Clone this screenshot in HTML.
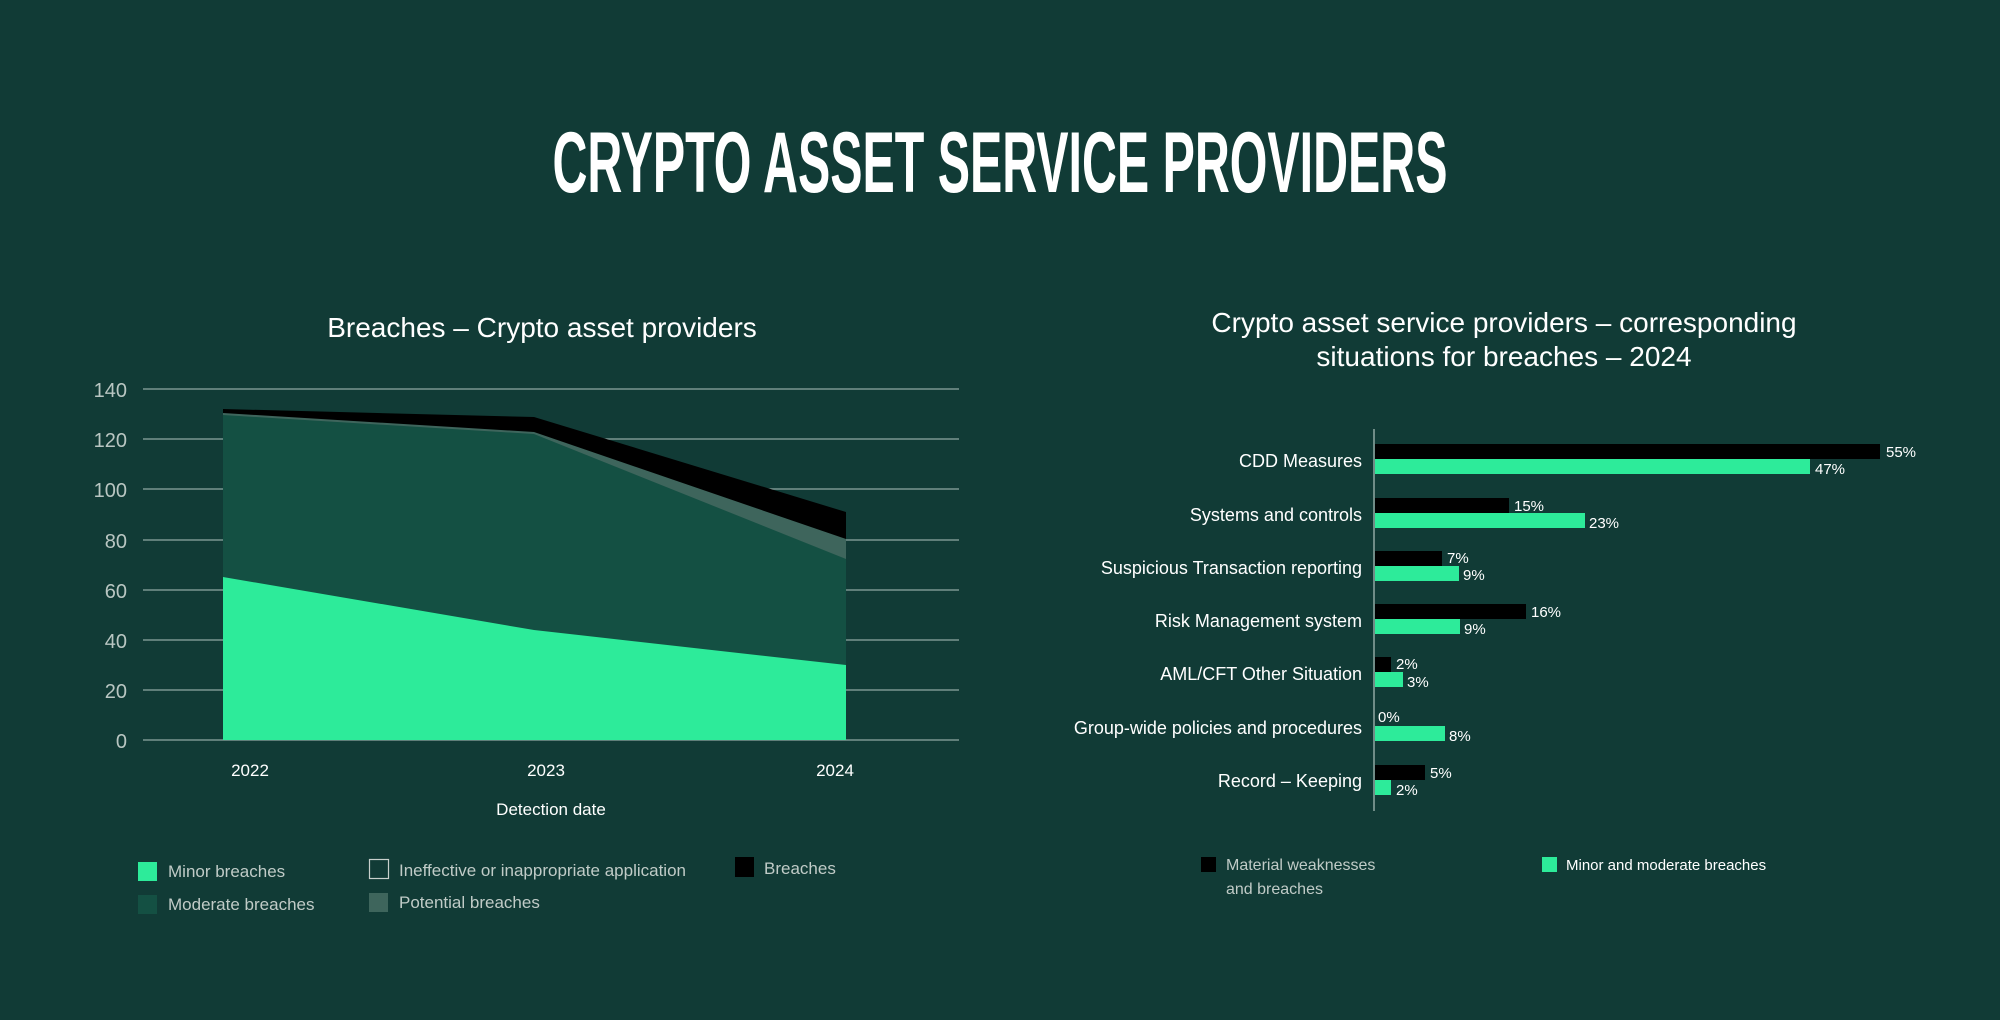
<!DOCTYPE html>
<html><head><meta charset="utf-8"><style>
html,body{margin:0;padding:0;background:#113b36;}
svg{display:block;}
text{font-family:"Liberation Sans",sans-serif;}
</style></head><body>
<svg width="2000" height="1020" viewBox="0 0 2000 1020" xmlns="http://www.w3.org/2000/svg">
<rect width="2000" height="1020" fill="#113b36"/>
<text x="1000" y="192" text-anchor="middle" fill="#fff" font-size="86" font-weight="bold" textLength="895" lengthAdjust="spacingAndGlyphs" style="font-family:'Liberation Sans Narrow','Liberation Sans',sans-serif">CRYPTO ASSET SERVICE PROVIDERS</text>

<text x="542" y="337" text-anchor="middle" fill="#fff" font-size="28">Breaches – Crypto asset providers</text>
<g stroke="#8fa8a2" stroke-width="1.2">
<line x1="143" y1="389" x2="959" y2="389"/><line x1="143" y1="439" x2="959" y2="439"/>
<line x1="143" y1="489" x2="959" y2="489"/><line x1="143" y1="540" x2="959" y2="540"/>
<line x1="143" y1="590" x2="959" y2="590"/><line x1="143" y1="640" x2="959" y2="640"/>
<line x1="143" y1="690" x2="959" y2="690"/><line x1="143" y1="740" x2="959" y2="740"/>
</g>
<g fill="#b9c6c2" font-size="20" text-anchor="end">
<text x="127" y="397">140</text><text x="127" y="447">120</text><text x="127" y="497">100</text>
<text x="127" y="548">80</text><text x="127" y="598">60</text><text x="127" y="648">40</text>
<text x="127" y="698">20</text><text x="127" y="748">0</text>
</g>
<polygon points="223,409 534,417 846,512 846,740 223,740" fill="#000"/>
<polygon points="223,413 534,432 846,539 846,740 223,740" fill="#3e655c"/>
<polygon points="223,415 534,434 846,559 846,740 223,740" fill="#145043"/>
<polygon points="223,577 534,630 846,665 846,740 223,740" fill="#2deb9a"/>
<g fill="#fff" font-size="17" text-anchor="middle">
<text x="250" y="776">2022</text><text x="546" y="776">2023</text><text x="835" y="776">2024</text>
<text x="551" y="815">Detection date</text>
</g>
<rect x="138" y="862" width="19" height="19" fill="#2deb9a"/>
<rect x="138" y="895" width="19" height="19" fill="#145043"/>
<rect x="369.5" y="859.5" width="19" height="19" fill="none" stroke="#c8d0cc" stroke-width="1.2"/>
<rect x="369" y="893" width="19" height="19" fill="#3e655c"/>
<rect x="735" y="857" width="19" height="20" fill="#000"/>
<g fill="#c0cbc7" font-size="17">
<text x="168" y="877">Minor breaches</text><text x="168" y="910">Moderate breaches</text>
<text x="399" y="876">Ineffective or inappropriate application</text><text x="399" y="908">Potential breaches</text>
<text x="764" y="874">Breaches</text>
</g>

<text x="1504" y="332" text-anchor="middle" fill="#fff" font-size="28">Crypto asset service providers – corresponding</text>
<text x="1504" y="366" text-anchor="middle" fill="#fff" font-size="28">situations for breaches – 2024</text>
<line x1="1374" y1="429" x2="1374" y2="811" stroke="#8fa8a2" stroke-width="1.5"/>
<g font-size="18" fill="#fff" text-anchor="end">
<text x="1362" y="467">CDD Measures</text>
<text x="1362" y="521">Systems and controls</text>
<text x="1362" y="574">Suspicious Transaction reporting</text>
<text x="1362" y="627">Risk Management system</text>
<text x="1362" y="680">AML/CFT Other Situation</text>
<text x="1362" y="734">Group-wide policies and procedures</text>
<text x="1362" y="787">Record – Keeping</text>
</g>
<g fill="#000">
<rect x="1375" y="444" width="505" height="15"/>
<rect x="1375" y="498" width="134" height="15"/>
<rect x="1375" y="551" width="67" height="15"/>
<rect x="1375" y="604" width="151" height="15"/>
<rect x="1375" y="657" width="16" height="15"/>
<rect x="1375" y="765" width="50" height="15"/>
</g>
<g fill="#2deb9a">
<rect x="1375" y="459" width="435" height="15"/>
<rect x="1375" y="513" width="210" height="15"/>
<rect x="1375" y="566" width="84" height="15"/>
<rect x="1375" y="619" width="85" height="15"/>
<rect x="1375" y="672" width="28" height="15"/>
<rect x="1375" y="726" width="70" height="15"/>
<rect x="1375" y="780" width="16" height="15"/>
</g>
<g fill="#fff" font-size="15">
<text x="1886" y="457">55%</text><text x="1815" y="474">47%</text>
<text x="1514" y="511">15%</text><text x="1589" y="528">23%</text>
<text x="1447" y="563">7%</text><text x="1463" y="580">9%</text>
<text x="1531" y="617">16%</text><text x="1464" y="634">9%</text>
<text x="1396" y="669">2%</text><text x="1407" y="687">3%</text>
<text x="1378" y="722">0%</text><text x="1449" y="741">8%</text>
<text x="1430" y="778">5%</text><text x="1396" y="795">2%</text>
</g>
<rect x="1201" y="857" width="15" height="15" fill="#000"/>
<rect x="1542" y="857" width="15" height="15" fill="#2deb9a"/>
<g font-size="16">
<text x="1226" y="870" fill="#c0cbc7">Material weaknesses</text>
<text x="1226" y="894" fill="#c0cbc7">and breaches</text>
<text x="1566" y="870" fill="#fff" font-size="15">Minor and moderate breaches</text>
</g>
</svg>
</body></html>
